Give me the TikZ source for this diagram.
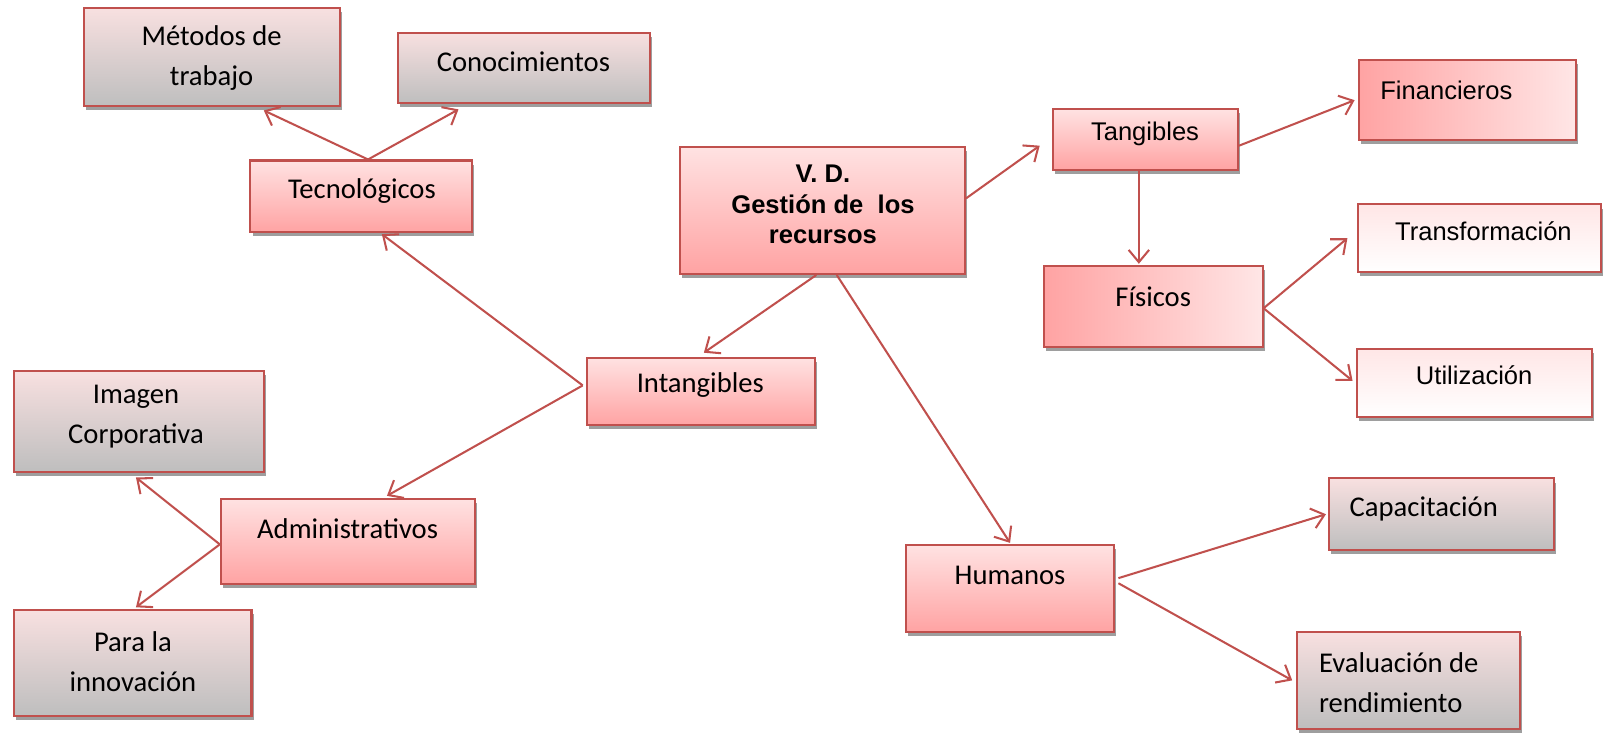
\documentclass[tikz,border=0pt]{standalone}
\usepackage{fontspec}
\setmainfont{Carlito}
\newfontfamily\arialfont{Liberation Sans}
\usetikzlibrary{arrows.meta,shadows}
\definecolor{boxline}{HTML}{C0504D}
\definecolor{pinklight}{HTML}{FFE2E2}
\definecolor{pinkdark}{HTML}{FFA3A3}
\definecolor{grayend}{HTML}{BEBEBE}
\definecolor{pinkgraytop}{HTML}{F8E0E0}
\definecolor{palepink}{HTML}{FFE6E6}
\tikzset{
  box/.style={draw=boxline, line width=2pt, inner sep=0pt,
    drop shadow={shadow xshift=2pt, shadow yshift=-4pt, fill=black!38, opacity=1}},
  pinkgray/.style={box, top color=pinkgraytop, bottom color=grayend},
  pinkv/.style={box, top color=pinklight, bottom color=pinkdark},
  pinkh/.style={box, left color=pinkdark, right color=palepink},
  palev/.style={box, top color=palepink, bottom color=white},
  lbl/.style={font=\fontsize{28}{39}\selectfont, align=center, inner sep=0pt},
  albl/.style={font=\arialfont\fontsize{25}{30}\selectfont, align=center, inner sep=0pt},
  link/.style={draw=boxline, line width=2pt, -{Straight Barb[length=12pt,width=20pt]}}
}
\begin{document}
\begin{tikzpicture}[x=1pt,y=-1pt]
\useasboundingbox (0,0) rectangle (1568,718);

% boxes
\node[pinkgray, minimum width=251, minimum height=96] (met) at (207.5,56) {};
\node[pinkgray, minimum width=247, minimum height=69] (con) at (512.5,66.5) {};
\node[pinkv, minimum width=217, minimum height=70] (tec) at (353.5,192) {};
\node[pinkv, minimum width=279, minimum height=124] (vd) at (804.5,206) {};
\node[pinkv, minimum width=181, minimum height=59] (tan) at (1120.5,136.5) {};
\node[pinkh, minimum width=213, minimum height=78] (fin) at (1435.5,98) {};
\node[pinkh, minimum width=214, minimum height=79] (fis) at (1128,299.5) {};
\node[palev, minimum width=238, minimum height=66] (tra) at (1447,233) {};
\node[palev, minimum width=230, minimum height=67] (uti) at (1442,374.5) {};
\node[pinkv, minimum width=223, minimum height=66] (int) at (685.5,383) {};
\node[pinkgray, minimum width=244, minimum height=99] (ima) at (136,412.5) {};
\node[pinkv, minimum width=249, minimum height=83] (adm) at (340.5,529.5) {};
\node[pinkgray, minimum width=232, minimum height=103] (par) at (130,648.5) {};
\node[pinkv, minimum width=204, minimum height=85] (hum) at (988,575.5) {};
\node[pinkgray, minimum width=220, minimum height=70] (cap) at (1410,503) {};
\node[pinkgray, minimum width=218, minimum height=95] (eva) at (1378,665.5) {};

% labels
\node[lbl] (met-t) at (207,57) {Métodos de\\trabajo};
\node[lbl] (con-t) at (512,60) {Conocimientos};
\node[lbl] (tec-t) at (354,187) {Tecnológicos};
\node[albl, font=\arialfont\bfseries\fontsize{25}{29.5}\selectfont] (vd-t) at (805,200) {V. D.\\Gestión de~~los\\recursos};
\node[albl] (tan-t) at (1120,131) {Tangibles};
\node[albl, anchor=west] (fin-t) at (1350,88) {Financieros};
\node[lbl] (fis-t) at (1128,290) {Físicos};
\node[albl] (tra-t) at (1451,226) {Transformación};
\node[albl] (uti-t) at (1442,367) {Utilización};
\node[lbl] (int-t) at (685,377) {Intangibles};
\node[lbl] (ima-t) at (133,407.5) {Imagen\\Corporativa};
\node[lbl] (adm-t) at (340,517) {Administrativos};
\node[lbl] (par-t) at (130,647.5) {Para la\\innovación};
\node[lbl] (hum-t) at (988,563) {Humanos};
\node[lbl, anchor=west] (cap-t) at (1320,498) {Capacitación};
\node[lbl, anchor=west, align=left] (eva-t) at (1290,668) {Evaluación de\\rendimiento};

% connectors
\draw[link] ([xshift=6.5pt]tec.north) -- ([xshift=50.5pt,yshift=-3pt]met.south);
\draw[link] ([xshift=6.5pt]tec.north) -- ([xshift=-64pt,yshift=-5pt]con.south);
\draw[link] ([xshift=-3pt,yshift=6pt]int.west) -- ([xshift=20pt,yshift=-1pt]tec.south);
\draw[link] ([xshift=-3pt,yshift=6pt]int.west) -- ([xshift=38pt,yshift=2pt]adm.north);
\draw[link] ([xshift=-6pt]vd.south) -- ([xshift=3pt,yshift=4pt]int.north);
\draw[link] ([xshift=14pt]vd.south) -- ([yshift=1pt]hum.north);
\draw[link] ([yshift=12pt]vd.east) -- ([xshift=-12pt,yshift=-6pt]tan.west);
\draw[link] ([yshift=-6pt]tan.east) -- ([xshift=-3pt]fin.west);
\draw[link] ([xshift=-6.5pt]tan.south) -- ([xshift=-14pt,yshift=1pt]fis.north);
\draw[link] ([yshift=-2pt]fis.east) -- ([xshift=-9pt]tra.west);
\draw[link] ([yshift=-2pt]fis.east) -- ([xshift=-3pt,yshift=2pt]uti.west);
\draw[link] ([yshift=-3pt]adm.west) -- ([xshift=-3pt,yshift=-4pt]ima.south);
\draw[link] ([yshift=-3pt]adm.west) -- ([xshift=3pt,yshift=2pt]par.north);
\draw[link] ([xshift=3pt,yshift=10pt]hum.east) -- ([xshift=-2pt]cap.west);
\draw[link] ([xshift=3pt,yshift=5pt]hum.east) -- ([xshift=-4pt]eva.west);
\end{tikzpicture}
\end{document}
